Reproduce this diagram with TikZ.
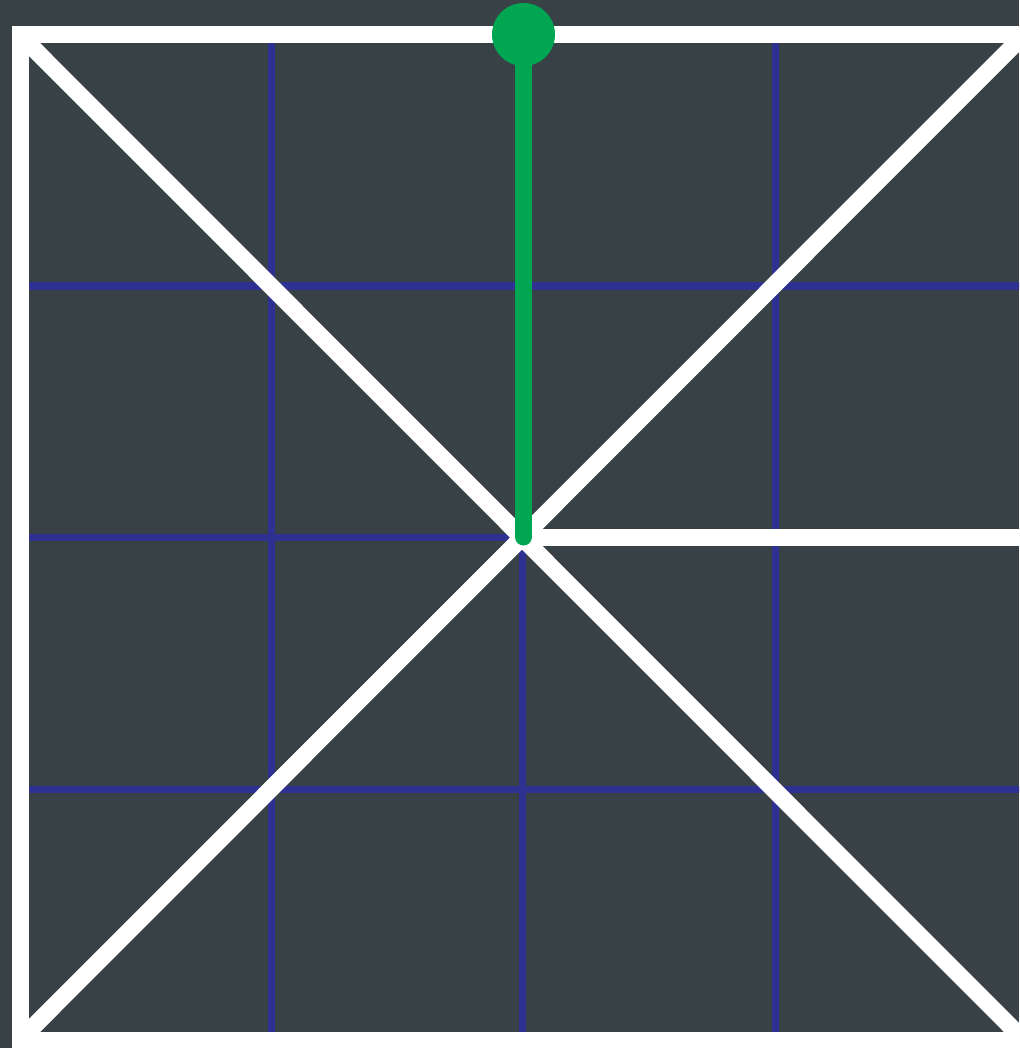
\documentclass[tikz,border=0pt]{standalone}
\definecolor{bgc}{RGB}{55,65,70}
\definecolor{gridc}{RGB}{46,48,146}
\definecolor{greenc}{RGB}{0,166,81}
\begin{document}
\begin{tikzpicture}[x=1pt,y=-1pt,
  gridline/.style={draw=gridc,line width=7pt},
  whiteline/.style={draw=white,line width=17pt,miter limit=10},
  greenline/.style={draw=greenc,line width=17pt,line cap=round}]
\fill[bgc] (0,0) rectangle (1019,1048);
\useasboundingbox (0,0) rectangle (1019,1048);
\clip (0,0) rectangle (1019,1048);
\coordinate (TL) at (20,35);
\coordinate (TR) at (1024,35);
\coordinate (BL) at (20,1040);
\coordinate (BR) at (1024,1040);
\coordinate (C) at (522,537);
\coordinate (R) at (1024,537);
\coordinate (T) at (523.5,34.5);
\coordinate (G) at (523.5,537);
% blue grid
\draw[gridline] (20,286) -- (1024,286);
\draw[gridline] (20,789) -- (1024,789);
\draw[gridline] (20,537) -- (C);
\draw[gridline] (271,35) -- (271,1040);
\draw[gridline] (775,35) -- (775,1040);
\draw[gridline] (C) -- (522,1040);
% white lines
\draw[whiteline] (BL) -- (TL) -- (TR);
\draw[whiteline] (BL) -- (BR);
\draw[whiteline] (20,1048) -- (BL);
\draw[whiteline] (TL) -- (BR);
\draw[whiteline] (BL) -- (TR);
\draw[whiteline] (C) -- (R);
% green
\draw[greenline] (T) -- (G);
\node[circle,fill=greenc,minimum size=63pt,inner sep=0pt] (dot) at (T) {};
\end{tikzpicture}
\end{document}
